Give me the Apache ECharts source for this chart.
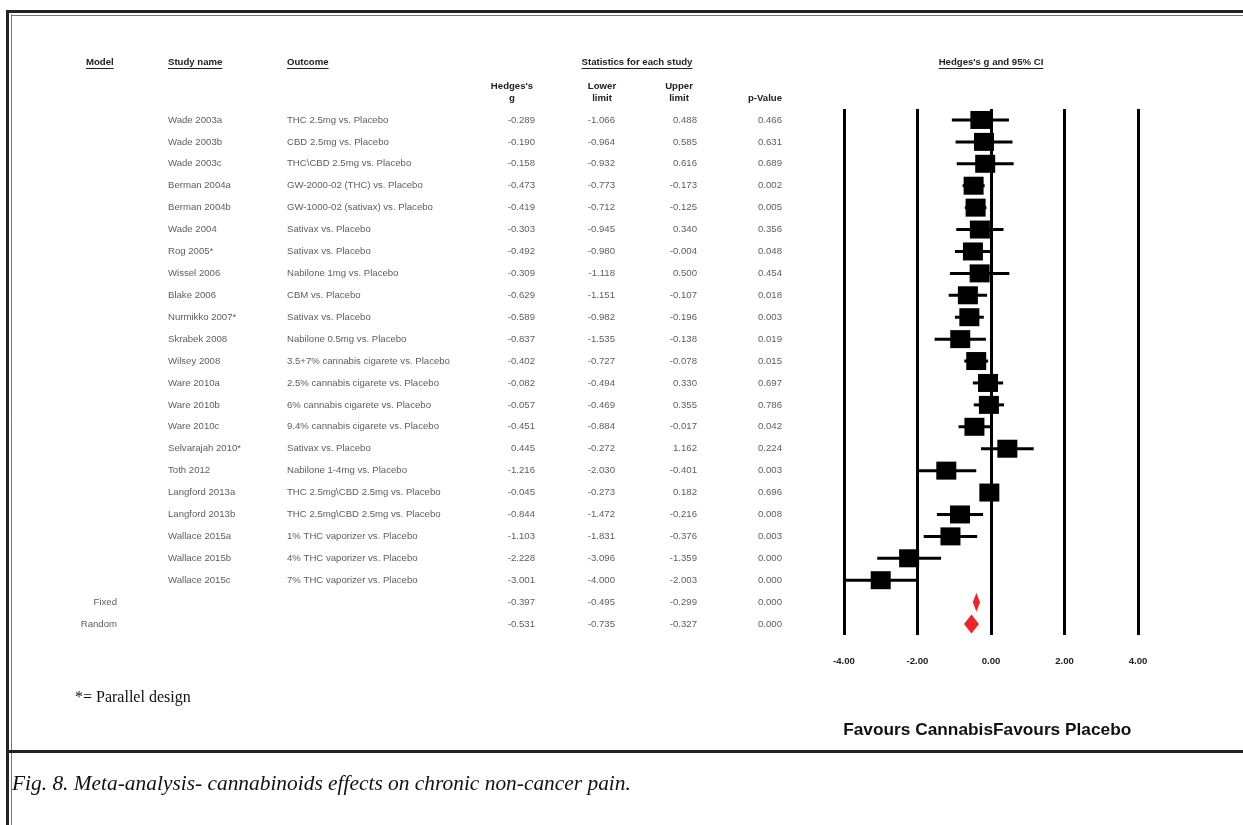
<!DOCTYPE html>
<html><head><meta charset="utf-8">
<script src="https://cdn.jsdelivr.net/npm/echarts@6/dist/echarts.min.js"></script>
<style>html,body{margin:0;padding:0;background:#fff}#c{width:1243px;height:825px}</style>
</head><body><div id="c"></div>
<script>
// ---------- DATA ----------
const studies = ['Wade 2003a','Wade 2003b','Wade 2003c','Berman 2004a','Berman 2004b','Wade 2004','Rog 2005*','Wissel 2006','Blake 2006','Nurmikko 2007*','Skrabek 2008','Wilsey 2008','Ware 2010a','Ware 2010b','Ware 2010c','Selvarajah 2010*','Toth 2012','Langford 2013a','Langford 2013b','Wallace 2015a','Wallace 2015b','Wallace 2015c'];
const outcomes = ['THC 2.5mg vs. Placebo','CBD 2.5mg vs. Placebo','THC\\CBD 2.5mg vs. Placebo','GW-2000-02 (THC) vs. Placebo','GW-1000-02 (sativax) vs. Placebo','Sativax vs. Placebo','Sativax vs. Placebo','Nabilone 1mg vs. Placebo','CBM vs. Placebo','Sativax vs. Placebo','Nabilone 0.5mg vs. Placebo','3.5+7% cannabis cigarete vs. Placebo','2.5% cannabis cigarete vs. Placebo','6% cannabis cigarete vs. Placebo','9.4% cannabis cigarete vs. Placebo','Sativax vs. Placebo','Nabilone 1-4mg vs. Placebo','THC 2.5mg\\CBD 2.5mg vs. Placebo','THC 2.5mg\\CBD 2.5mg vs. Placebo','1% THC vaporizer vs. Placebo','4% THC vaporizer vs. Placebo','7% THC vaporizer vs. Placebo'];
const hedgesG = [-0.289,-0.190,-0.158,-0.473,-0.419,-0.303,-0.492,-0.309,-0.629,-0.589,-0.837,-0.402,-0.082,-0.057,-0.451,0.445,-1.216,-0.045,-0.844,-1.103,-2.228,-3.001];
const lowerLimit = [-1.066,-0.964,-0.932,-0.773,-0.712,-0.945,-0.980,-1.118,-1.151,-0.982,-1.535,-0.727,-0.494,-0.469,-0.884,-0.272,-2.030,-0.273,-1.472,-1.831,-3.096,-4.000];
const upperLimit = [0.488,0.585,0.616,-0.173,-0.125,0.340,-0.004,0.500,-0.107,-0.196,-0.138,-0.078,0.330,0.355,-0.017,1.162,-0.401,0.182,-0.216,-0.376,-1.359,-2.003];
const pValue = [0.466,0.631,0.689,0.002,0.005,0.356,0.048,0.454,0.018,0.003,0.019,0.015,0.697,0.786,0.042,0.224,0.003,0.696,0.008,0.003,0.000,0.000];
const models = ['Fixed','Random'];
const modelG = [-0.397,-0.531];
const modelLower = [-0.495,-0.735];
const modelUpper = [-0.299,-0.327];
const modelP = [0.000,0.000];
const tickLabels = ['-4.00','-2.00','0.00','2.00','4.00'];

// ---------- LAYOUT ----------
const W = 1243, H = 825;
const GRID_TOP = 109, GRID_H = 526;
const SANS = '"Liberation Sans", Arial, sans-serif';
const SERIF = '"Liberation Serif", "Times New Roman", serif';
const TXT = '#333';
const rowCats = studies.concat(models).map((s, i) => String(i));
const nS = studies.length;

const measure = (() => { const c = document.createElement('canvas').getContext('2d');
  return (t, font) => { c.font = font; return c.measureText(t).width; }; })();

function textSeries(colX, texts, rowStart, side) {
  return {
    type: 'scatter', xAxisIndex: 1, yAxisIndex: 1, symbolSize: 0, silent: true, animation: false,
    data: texts.map((t, i) => ({ value: [colX, rowStart + i], name: t })),
    label: { show: true, position: side, distance: 0, formatter: p => p.name,
      color: TXT, fontFamily: SANS, fontSize: 9.6 }
  };
}
const fmt3 = v => v.toFixed(3);

// ---------- GRAPHIC (frame + headers) ----------
const gfx = [];
const hline = (x1, x2, y, w, c) => gfx.push({ type: 'line', silent: true, shape: { x1, y1: y, x2, y2: y }, style: { stroke: c, lineWidth: w } });
const vline = (x, y1, y2, w, c) => gfx.push({ type: 'line', silent: true, shape: { x1: x, y1, x2: x, y2 }, style: { stroke: c, lineWidth: w } });
// frame
hline(6, W, 11.5, 3, '#222'); hline(11, W, 15.5, 1, '#777');
vline(7.5, 10, H, 3, '#222'); vline(11.5, 14, H, 1, '#777');
hline(6, W, 751.5, 3, '#222');

function txt(t, x, y, o) {
  gfx.push({ type: 'text', silent: true, x, y, style: Object.assign({ text: t, fill: '#222', fontFamily: SANS, fontSize: 9.6,
    textAlign: 'left', textVerticalAlign: 'middle' }, o || {}) });
}
function ulHeader(t, x, y, align) {
  txt(t, x, y, { fontWeight: 'bold', textAlign: align });
  const w = measure(t, 'bold 9.6px ' + SANS);
  const x1 = align === 'center' ? x - w / 2 : x;
  hline(x1, x1 + w, y + 6.5, 1, '#222');
}
ulHeader('Model', 86, 62, 'left');
ulHeader('Study name', 168, 62, 'left');
ulHeader('Outcome', 287, 62, 'left');
ulHeader('Statistics for each study', 637, 62, 'center');
ulHeader("Hedges's g and 95% CI", 991, 62, 'center');
txt("Hedges's", 512, 86, { fontWeight: 'bold', textAlign: 'center' });
txt('g', 512, 98, { fontWeight: 'bold', textAlign: 'center' });
txt('Lower', 602, 86, { fontWeight: 'bold', textAlign: 'center' });
txt('limit', 602, 98, { fontWeight: 'bold', textAlign: 'center' });
txt('Upper', 679, 86, { fontWeight: 'bold', textAlign: 'center' });
txt('limit', 679, 98, { fontWeight: 'bold', textAlign: 'center' });
txt('p-Value', 765, 98, { fontWeight: 'bold', textAlign: 'center' });
txt('Favours Cannabis', 993, 730, { fontWeight: 'bold', fontSize: 17.3, textAlign: 'right', fill: '#111' });
txt('Favours Placebo', 993, 730, { fontWeight: 'bold', fontSize: 17.3, textAlign: 'left', fill: '#111' });
txt('*= Parallel design', 75, 698, { fontFamily: SERIF, fontSize: 16, fill: '#111' });
txt('Fig. 8. Meta-analysis- cannabinoids effects on chronic non-cancer pain.', 12, 784,
  { fontFamily: SERIF, fontSize: 21.4, fontStyle: 'italic', fill: '#111' });

// ---------- CHART ----------
const chart = echarts.init(document.getElementById('c'), null, { renderer: 'canvas' });
chart.setOption({
  backgroundColor: '#fff',
  animation: false,
  grid: [
    { left: 844, width: 294, top: GRID_TOP, height: GRID_H },
    { left: 0, width: 820, top: GRID_TOP, height: GRID_H }
  ],
  xAxis: [
    { type: 'value', gridIndex: 0, min: -4, max: 4, interval: 2,
      axisLine: { show: false }, axisTick: { show: false },
      splitLine: { show: true, showMinLine: true, showMaxLine: true, lineStyle: { color: '#000', width: 3 } },
      axisLabel: { margin: 21, color: '#222', fontWeight: 'bold', fontSize: 9.6, fontFamily: SANS,
        formatter: v => tickLabels[Math.round((v + 4) / 2)] } },
    { type: 'value', gridIndex: 1, min: 0, max: 820, show: false }
  ],
  yAxis: [
    { type: 'category', gridIndex: 0, data: rowCats, inverse: true, show: false },
    { type: 'category', gridIndex: 1, data: rowCats, inverse: true, show: false }
  ],
  graphic: gfx,
  series: [
    // study estimates: CI line + square
    { type: 'custom', xAxisIndex: 0, yAxisIndex: 0, silent: true,
      data: hedgesG.map((g, i) => [g, lowerLimit[i], upperLimit[i], i]),
      encode: { x: [0, 1, 2], y: 3 },
      renderItem: (params, api) => {
        const r = api.value(3);
        const pc = api.coord([api.value(0), r]), pl = api.coord([api.value(1), r]), ph = api.coord([api.value(2), r]);
        return { type: 'group', children: [
          { type: 'line', shape: { x1: pl[0], y1: pc[1], x2: ph[0], y2: pc[1] }, style: { stroke: '#000', lineWidth: 3 } },
          { type: 'rect', shape: { x: pc[0] - 10, y: pc[1] - 9, width: 20, height: 18 }, style: { fill: '#000' } }
        ] };
      } },
    // pooled diamonds
    { type: 'custom', xAxisIndex: 0, yAxisIndex: 0, silent: true,
      data: modelG.map((g, i) => [g, modelLower[i], modelUpper[i], nS + i]),
      encode: { x: [0, 1, 2], y: 3 },
      renderItem: (params, api) => {
        const r = api.value(3);
        const pc = api.coord([api.value(0), r]), pl = api.coord([api.value(1), r]), ph = api.coord([api.value(2), r]);
        return { type: 'polygon', shape: { points: [[pl[0], pc[1]], [pc[0], pc[1] - 9.5], [ph[0], pc[1]], [pc[0], pc[1] + 9.5]] },
          style: { fill: '#e8262b' } };
      } },
    // table columns
    textSeries(117, models, nS, 'left'),
    textSeries(168, studies, 0, 'right'),
    textSeries(287, outcomes, 0, 'right'),
    textSeries(535, hedgesG.concat(modelG).map(fmt3), 0, 'left'),
    textSeries(615, lowerLimit.concat(modelLower).map(fmt3), 0, 'left'),
    textSeries(697, upperLimit.concat(modelUpper).map(fmt3), 0, 'left'),
    textSeries(782, pValue.concat(modelP).map(fmt3), 0, 'left')
  ]
});
</script></body></html>
